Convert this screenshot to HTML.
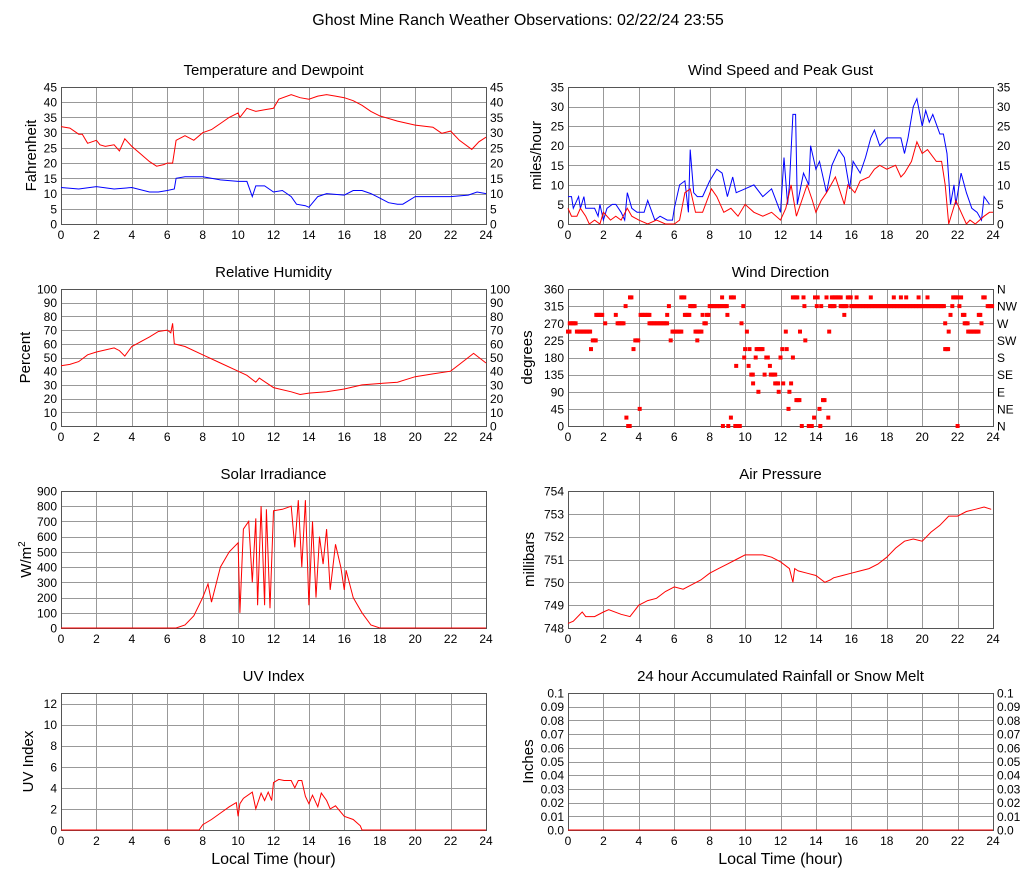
<!DOCTYPE html>
<html><head><meta charset="utf-8"><style>
body{margin:0;background:#fff;width:1027px;height:878px;overflow:hidden}
svg text{font-family:"Liberation Sans",sans-serif;fill:#000}
</style></head><body>
<svg id="c" width="1027" height="878" viewBox="0 0 1027 878" xmlns="http://www.w3.org/2000/svg">
<text x="518" y="25" font-size="16" text-anchor="middle">Ghost Mine Ranch Weather Observations: 02/22/24 23:55</text>
</svg>
<script>
// ---- data ----
const hourTicks=[0,2,4,6,8,10,12,14,16,18,20,22,24];
const tempH=[0,0.5,1,1.2,1.5,2,2.2,2.5,3,3.3,3.6,4,4.5,5,5.4,5.8,6,6.3,6.5,7,7.5,8,8.5,9,9.5,10,10.1,10.5,11,11.5,12,12.3,13,13.5,14,14.5,15,15.5,16,16.5,17,17.5,18,19,20,21,21.5,22,22.5,23.2,23.6,24];
const tempV=[32,31.5,29.5,29.5,26.5,27.5,26,25.5,26,24,28,25.5,23,20.5,19,19.5,20,20,27.5,29,27.5,30,31,33,35,36.5,35,38,37,37.5,38,41,42.5,41.5,41,42,42.5,42,41.5,40.5,39,37,35.5,33.8,32.5,31.8,29.8,30.5,27.5,24.5,27,28.5];
const dewH=[0,1,2,3,4,5,5.5,6,6.4,6.5,7,8,9,10,10.5,10.8,11,11.5,12,12.5,13,13.3,13.8,14,14.5,15,16,16.5,17,17.5,18,18.5,19,19.3,20,21,22,23,23.5,24];
const dewV=[12,11.5,12.3,11.5,12,10.5,10.5,11,11.5,15,15.5,15.5,14.5,14,14,9,12.5,12.5,10.5,11,9,6.5,6,5.5,9,10,9.5,11,11,10,8.5,7,6.5,6.5,9,9,9,9.5,10.5,10];
const rhH=[0,0.5,1,1.5,2,3,3.3,3.6,4,5,5.5,6,6.2,6.3,6.4,7,8,9,10,10.5,11,11.2,12,13,13.5,14,15,16,17,18,19,20,21,22,22.5,23.3,24];
const rhV=[44,45,47,52,54,57,55,51,58,65,69,70,68,75,60,58,52,46,40,37,32,35,28,25,23,24,25,27,30,31,32,36,38,40,45,53,46];
const gustH=[0,0.2,0.3,0.6,0.7,0.9,1,1.5,1.7,1.8,2,2.2,2.5,2.7,3,3.2,3.35,3.6,3.9,4.3,4.5,4.9,5.2,5.6,5.9,6,6.3,6.6,6.8,6.9,7.1,7.3,7.6,8,8.4,8.7,9,9.3,9.5,10,10.5,11,11.5,12,12.2,12.4,12.5,12.7,12.85,12.95,13.3,13.6,13.7,14,14.2,14.6,14.9,15.3,15.6,15.9,16.1,16.5,16.8,17.1,17.3,17.6,18,18.3,18.8,19,19.2,19.5,19.7,20,20.2,20.4,20.6,21,21.2,21.4,21.6,21.8,21.9,22.2,22.5,22.8,23.1,23.35,23.5,23.8];
const gustV=[7,7,4,7,4,7,4,4,2,5,1,4,5,5,3,1,8,4,3,3,6,1,2,1,1,4,10,11,3,19,8,7,7,11,14,13,7,12,8,9,10,7,9,3,17,5,10,28,28,5,13,10,20,14,16,8,15,19,17,9,16,13,17,22,24,20,22,22,22,18,22,30,32,25,29,26,28,23,23,18,5,10,5,13,8,4,3,1,7,5,6];
const windH=[0,0.2,0.5,0.7,1,1.2,1.5,1.8,2,2.4,2.7,3,3.35,3.6,4,4.5,5,5.5,6,6.3,6.6,6.9,7.2,7.6,8.1,8.4,8.8,9.2,9.6,10,10.5,11,11.5,12,12.3,12.6,12.9,13.2,13.5,13.8,14,14.3,14.6,15.1,15.6,15.8,16.2,16.5,17,17.3,17.6,18,18.5,18.8,19,19.4,19.7,20,20.3,20.8,21.1,21.3,21.5,21.9,22.2,22.5,22.7,23,23.5,23.8,24];
const windV=[4,2,2,4,2,0,1,0,3,1,2,1,4,2,1,0,1,0,0,1,8,9,3,3,9,7,3,4,2,5,3,2,3,1,4,10,2,6,10,6,3,6,8,12,5,10,8,11,12,14,15,14,15,12,13,16,21,18,19,16,16,10,0,6,3,0,1,0,2,3,3];
const dirStart=[0,0.1,0.5,1.3,1.4,1.6,2.1,2.7,2.8,3.25,3.3,3.4,3.5,3.7,3.8,4.05,4.1,4.6,5.6,5.7,5.8,5.9,6.4,6.6,6.9,7.2,7.3,7.6,7.7,7.85,8.0,8.7,8.75,8.8,9.05,9.0,9.2,9.2,9.45,9.5,9.8,9.9,9.95,10.0,10.1,10.2,10.25,10.35,10.45,10.6,10.65,10.75,11.1,11.2,11.4,11.45,11.7,11.9,12.0,12.1,12.15,12.3,12.35,12.45,12.5,12.6,12.7,12.7,12.9,13.1,13.2,13.3,13.35,13.4,13.6,13.9,13.95,14.05,14.1,14.2,14.25,14.3,14.4,14.6,14.7,14.75,14.8,14.9,15.4,15.6,15.8,16.0,16.3,17.1,18.4,18.8,19.1,19.8,20.3,21.3,21.3,21.5,21.6,21.7,21.75,22.0,22.1,22.2,22.3,22.4,22.6,23.2,23.35,23.45,23.7];
const dirEnd=[0.1,0.5,1.3,1.3,1.6,2.0,2.1,2.7,3.2,3.25,3.3,3.5,3.6,3.7,4.0,4.05,4.6,5.6,5.6,5.7,5.8,6.4,6.6,6.9,7.2,7.6,7.3,7.6,7.8,8.0,8.7,8.7,8.75,9.0,9.05,9.0,9.2,9.4,9.7,9.5,9.8,9.9,9.95,10.0,10.1,10.2,10.25,10.5,10.45,10.6,11.0,10.75,11.1,11.3,11.4,11.7,11.9,11.9,12.0,12.1,12.15,12.3,12.35,12.45,12.5,12.6,12.7,13.0,13.1,13.1,13.2,13.3,13.35,13.4,13.8,13.9,13.95,14.05,14.1,14.2,14.25,14.3,14.5,14.6,14.7,14.75,15.1,15.4,15.8,15.6,16.0,21.3,16.3,17.1,18.4,18.8,19.1,19.8,20.3,21.3,21.5,21.5,21.6,21.7,22.0,22.0,22.1,22.2,22.4,22.6,23.2,23.35,23.4,23.6,24];
const dirDeg=[248,270,248,202,225,292,270,292,270,315,22,0,338,202,225,45,292,270,292,315,225,248,338,292,315,248,225,292,270,292,315,338,0,315,0,292,22,338,0,158,270,315,180,202,248,158,202,135,112,180,202,90,135,180,158,135,112,90,180,202,112,248,202,45,90,112,180,338,68,248,0,338,315,225,0,22,338,315,338,45,0,315,68,338,22,248,315,338,315,292,338,315,338,338,338,338,338,338,338,270,202,248,292,315,338,0,315,338,292,270,248,292,270,338,315];
const solarH=[0,6.5,7,7.5,8,8.3,8.5,9,9.5,10,10.1,10.3,10.6,10.8,11,11.1,11.3,11.5,11.6,11.8,12,12.5,13,13.2,13.4,13.6,13.8,14,14.2,14.4,14.6,14.8,15,15.2,15.5,15.8,16,16.1,16.5,17,17.5,18,24];
const solarV=[0,0,20,80,200,290,170,400,500,560,100,650,700,300,720,150,800,150,780,130,770,780,800,530,840,400,840,150,700,200,600,420,650,250,550,400,250,380,200,100,20,0,0];
const pressH=[0,0.3,0.8,1,1.5,2,2.3,3,3.5,4,4.5,5,5.5,6,6.5,7,7.5,8,8.5,9,9.5,10,11,11.5,12,12.5,12.7,12.8,13,13.5,14,14.5,14.8,15,15.5,16,16.5,17,17.5,18,18.5,19,19.5,20,20.5,21,21.5,22,22.5,23,23.5,23.9];
const pressV=[748.2,748.3,748.7,748.5,748.5,748.7,748.8,748.6,748.5,749,749.2,749.3,749.6,749.8,749.7,749.9,750.1,750.4,750.6,750.8,751,751.2,751.2,751.1,750.9,750.6,750.0,750.6,750.5,750.4,750.3,750.0,750.1,750.2,750.3,750.4,750.5,750.6,750.8,751.1,751.5,751.8,751.9,751.8,752.2,752.5,752.9,752.9,753.1,753.2,753.3,753.2];
const uvH=[0,7.8,8,8.5,9,9.5,9.9,10,10.1,10.3,10.8,11,11.3,11.5,11.7,11.9,12,12.3,12.6,13,13.2,13.4,13.6,13.8,14,14.2,14.5,14.7,15,15.2,15.5,16,16.5,16.9,17,24];
const uvV=[0,0,0.5,1,1.6,2.2,2.6,1.3,2.5,3,3.6,2,3.5,2.8,3.6,2.8,4.5,4.8,4.7,4.7,4,4.7,4.7,3.2,2.5,3.3,2.2,3.5,2.8,2,2.3,1.3,1,0.4,0,0];
const rainH=[0,24];
const rainV=[0,0];

// ---- drawing ----
const svg=document.getElementById('c');
const NS='http://www.w3.org/2000/svg';
function mk(tag,at,parent){const e=document.createElementNS(NS,tag);for(const k in at)e.setAttribute(k,at[k]);(parent||svg).appendChild(e);return e;}
function txt(s,at,parent){const e=mk('text',at,parent);e.textContent=s;return e;}
const PW=425,PH=137;
function panel(o){
  const g=mk('g',{});
  
  
  const L=o.x,T=o.y,R=L+PW,B=T+PH;
  const sx=h=>L+h/24*PW;
  const sy=v=>B-(v-o.min)/(o.max-o.min)*PH;
  o.sx=sx;o.sy=sy;
  const t=txt(o.title,{x:L+PW/2,y:T-12,'font-size':15,'text-anchor':'middle'},g);
  
  
  hourTicks.forEach(h=>{
    const x=Math.round(sx(h))+0.5;
    if(h>0&&h<24){const l=mk('line',{x1:x,x2:x,y1:T,y2:B,stroke:'#999','stroke-width':1},g);
      
      }
    const tl=txt(String(h),{x:sx(h),y:B+15,'font-size':12,'text-anchor':'middle'},g);
    
    
  });
  o.ticks.forEach((v,i)=>{
    const y=Math.round(sy(v))+0.5;
    if(v>o.min&&v<o.max){const l=mk('line',{x1:L,x2:R,y1:y,y2:y,stroke:'#999','stroke-width':1},g);
      
      }
    const lab=o.fmt?o.fmt(v):String(v);
    const tl=txt(lab,{x:L-4,y:sy(v)+4.5,'font-size':12,'text-anchor':'end'},g);
    
    
    if(o.right){
      const rl=txt(o.rightLabels?o.rightLabels[i]:lab,{x:R+4,y:sy(v)+4.5,'font-size':12},g);
      
      
    }
  });
  const fr=mk('rect',{x:L+0.5,y:T+0.5,width:PW,height:PH,fill:'none',stroke:'#555','stroke-width':1},g);
  
  
  const yl=txt('',{transform:`translate(${L-o.ylOff},${T+PH/2}) rotate(-90)`,'font-size':15,'text-anchor':'middle'},g);
  
  
  if(o.ylabel==='W/m2'){yl.textContent='W/m';const sp=mk('tspan',{dy:-6,'font-size':10},yl);sp.textContent='2';}
  else yl.textContent=o.ylabel;
  if(o.xlabel){const xl=txt('Local Time (hour)',{x:L+PW/2,y:B+34,'font-size':16,'text-anchor':'middle'},g);
    
    }
  o.g=g;return o;
}
function line(p,H,V,color,name){
  const d=H.map((h,i)=>(i?'L':'M')+p.sx(h).toFixed(1)+','+p.sy(V[i]).toFixed(1)).join('');
  const e=mk('path',{d:d,fill:'none',stroke:color,'stroke-width':1},p.g);
  
  
}
const range=(a,b,s)=>{const r=[];for(let v=a;v<=b+1e-9;v+=s)r.push(+v.toFixed(2));return r;};
const LX=61,RX=568,tops=[87,289,491,693];

const p1=panel({name:'temperature-panel',title:'Temperature and Dewpoint',x:LX,y:tops[0],min:0,max:45,ticks:range(0,45,5),right:true,ylabel:'Fahrenheit',ylOff:25});
line(p1,tempH,tempV,'#f00','temperature-line');
line(p1,dewH,dewV,'#00f','dewpoint-line');
const p2=panel({name:'wind-speed-panel',title:'Wind Speed and Peak Gust',x:RX,y:tops[0],min:0,max:35,ticks:range(0,35,5),right:true,ylabel:'miles/hour',ylOff:27});
line(p2,gustH,gustV,'#00f','gust-line');
line(p2,windH,windV,'#f00','wind-speed-line');
const p3=panel({name:'humidity-panel',title:'Relative Humidity',x:LX,y:tops[1],min:0,max:100,ticks:range(0,100,10),right:true,ylabel:'Percent',ylOff:31});
line(p3,rhH,rhV,'#f00','humidity-line');
const p4=panel({name:'wind-direction-panel',title:'Wind Direction',x:RX,y:tops[1],min:0,max:360,ticks:range(0,360,45),right:true,rightLabels:['N','NE','E','SE','S','SW','W','NW','N'],ylabel:'degrees',ylOff:36});
dirStart.forEach((s,i)=>{
  for(let h=s;h<=dirEnd[i]+1e-6;h+=0.083){
    const r=mk('rect',{x:(p4.sx(h)-2).toFixed(1),y:(p4.sy(dirDeg[i])-2).toFixed(1),width:4,height:4,fill:'#f00'},p4.g);
    
    
  }
});
const p5=panel({name:'solar-panel',title:'Solar Irradiance',x:LX,y:tops[2],min:0,max:900,ticks:range(0,900,100),ylabel:'W/m2',ylOff:30});
line(p5,solarH,solarV,'#f00','solar-line');
const p6=panel({name:'pressure-panel',title:'Air Pressure',x:RX,y:tops[2],min:748,max:754,ticks:range(748,754,1),ylabel:'millibars',ylOff:34});
line(p6,pressH,pressV,'#f00','pressure-line');
const p7=panel({name:'uv-panel',title:'UV Index',x:LX,y:tops[3],min:0,max:13,ticks:range(0,12,2),ylabel:'UV Index',ylOff:28,xlabel:true});
line(p7,uvH,uvV,'#f00','uv-line');
const p8=panel({name:'rainfall-panel',title:'24 hour Accumulated Rainfall or Snow Melt',x:RX,y:tops[3],min:0,max:0.1,ticks:range(0,0.1,0.01),right:true,fmt:v=>v===0?'0.0':String(v),ylabel:'Inches',ylOff:35,xlabel:true});
line(p8,rainH,rainV,'#f00','rainfall-line');
</script>
</body></html>
